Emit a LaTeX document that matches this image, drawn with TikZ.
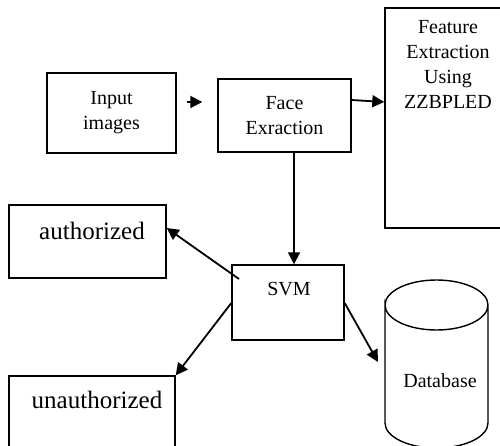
\documentclass[tikz,border=0pt]{standalone}
\usepackage{fontspec}
\setmainfont{Liberation Serif}
\usetikzlibrary{arrows.meta}
\begin{document}
\begin{tikzpicture}[x=1pt,y=-1pt,
  box/.style={draw,line width=1.4pt,rectangle,inner sep=0pt},
  txt/.style={font=\fontsize{20}{25}\selectfont,align=center,inner sep=0pt},
  big/.style={font=\fontsize{25}{30}\selectfont,inner sep=0pt},
  arr/.style={line width=1.8pt,-{Triangle[length=12pt,width=12pt]}}]
\useasboundingbox (0,0) rectangle (500,446);
\node[box,minimum width=129pt,minimum height=80pt,txt] (input) at (111.5,113) {Input\\images};
\node[box,minimum width=133pt,minimum height=73pt,txt] (face) at (284.5,115.5) {Face\\Exraction};
\node[box,minimum width=127pt,minimum height=220pt] (feature) at (448.5,118) {};
\node[txt,anchor=north] (featuretxt) at (448,20) {Feature\\Extraction\\Using\\ZZBPLED};
\node[box,minimum width=112pt,minimum height=75pt] (svm) at (288,302.5) {};
\node[txt] (svmtxt) at (289,289) {SVM};
\node[box,minimum width=157pt,minimum height=73pt] (auth) at (87.5,241.5) {};
\node[big] (authtxt) at (92,231) {authorized};
\node[box,minimum width=166pt,minimum height=100pt] (unauth) at (92,426) {};
\node[big] (unauthtxt) at (97,400) {unauthorized};
% database cylinder
\draw[line width=1.4pt] (385,305) arc[start angle=180,end angle=360,x radius=51.5,y radius=25]
  arc[start angle=0,end angle=180,x radius=51.5,y radius=25] -- (385,423)
  arc[start angle=180,end angle=0,x radius=51.5,y radius=25] -- (488,305);
\node[txt] (db) at (440,381) {Database};
\coordinate (dbin) at (378,362);
% arrows
\draw[arr] ([xshift=10pt]input.east |- 0,102) -- ([xshift=-15pt]face.west |- 0,102);
\draw[arr] (face.east |- 0,100) -- (feature.west |- 0,102);
\draw[arr] ([xshift=9.5pt]face.south) -- ([xshift=6pt]svm.north);
\draw[arr] (239,279) -- (auth.east |- 0,228);
\draw[arr] (svm.west |- 0,303) -- (unauth.north east);
\draw[arr] (svm.east |- 0,303) -- (dbin);
\end{tikzpicture}
\end{document}
